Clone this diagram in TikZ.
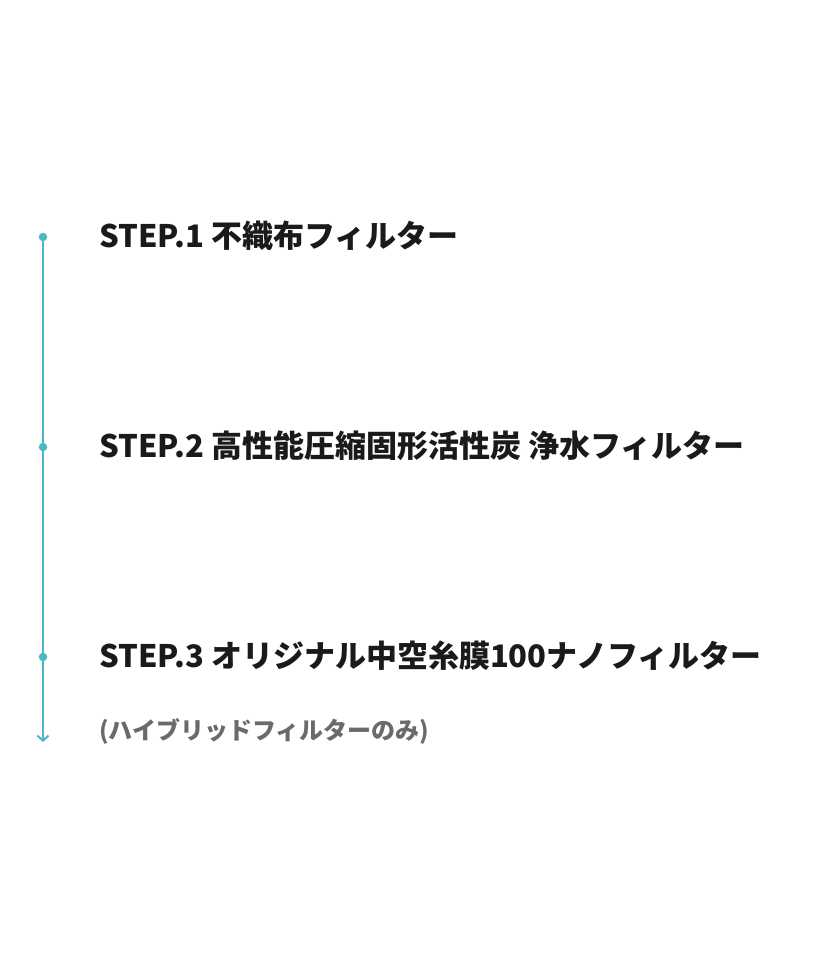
\documentclass[tikz,border=0pt]{standalone}
\usepackage{fontspec}
\newfontfamily\jpfont{Noto Sans CJK JP}
\usetikzlibrary{arrows.meta}
\definecolor{flowteal}{HTML}{4DB8C4}
\definecolor{steptext}{HTML}{1A1A1A}
\definecolor{notetext}{HTML}{6A6A6A}
\tikzset{
  stepdot/.style={circle,fill=flowteal,inner sep=0pt,minimum size=8.5pt},
  steplabel/.style={anchor=base west,inner sep=0pt,text=steptext,font=\jpfont\bfseries\fontsize{31}{33}\selectfont},
  notelabel/.style={anchor=base west,inner sep=0pt,text=notetext,font=\jpfont\bfseries\fontsize{24}{27}\selectfont},
  flowline/.style={draw=flowteal,line width=2pt}
}

\begin{document}
\begin{tikzpicture}[x=1pt,y=-1pt]
  \useasboundingbox (0,0) rectangle (835,967);
  % dots on the line
  \node[stepdot] (d1) at (43,237) {};
  \node[stepdot] (d2) at (43,447) {};
  \node[stepdot] (d3) at (43,657) {};
  \coordinate (end) at (43,742);
  % line with arrow
  \draw[flowline] (d1.center) -- (d2);
  \draw[flowline] (d2) -- (d3);
  \draw[flowline,-{Straight Barb[length=5pt,width=11pt]}] (d3) -- (end);
  % step texts
  \node[steplabel] (s1) at (99,247) {STEP.1 不織布フィルター};
  \node[steplabel] (s2) at (99,457) {STEP.2 高性能圧縮固形活性炭 浄水フィルター};
  \node[steplabel] (s3) at (99,667) {STEP.3 オリジナル中空糸膜100ナノフィルター};
  \node[notelabel] (n3) at (99,739) {(ハイブリッドフィルターのみ)};
\end{tikzpicture}
\end{document}
